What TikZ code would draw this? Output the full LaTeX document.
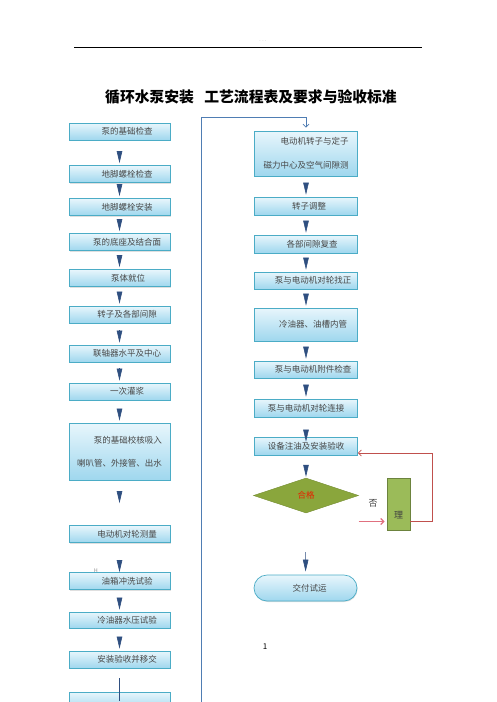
\documentclass[tikz,border=0pt]{standalone}
\usepackage{fontspec}
\setmainfont{Noto Sans CJK SC}
\definecolor{boxtop}{HTML}{E8F6FC}
\definecolor{boxbot}{HTML}{9FD7EE}
\definecolor{boxline}{HTML}{4BACC6}
\definecolor{wedgeblue}{HTML}{2F4F80}
\definecolor{backblue}{HTML}{4F7DB3}
\definecolor{checkgreen}{HTML}{8AA63C}
\definecolor{fixgreen}{HTML}{9BBB59}
\definecolor{returnred}{HTML}{C0504D}
\definecolor{nopink}{HTML}{E0707F}
\usetikzlibrary{arrows.meta,positioning,calc,shapes.geometric,shadows}

\begin{document}
\begin{tikzpicture}[x=1pt,y=-1pt,
    stepbox/.style={draw=boxline,line width=0.7pt,top color=boxtop,bottom color=boxbot,minimum width=101pt,minimum height=17pt,inner sep=1pt,align=center,text=black!72,font=\fontsize{8.5}{10}\selectfont,drop shadow={shadow xshift=0.6pt,shadow yshift=-1pt,opacity=0.25}},
    nudge/.style={execute at begin node={\hspace*{#1}}},
    leftbox/.style={stepbox,nudge=15pt},
    rightbox/.style={stepbox,minimum width=103pt},
    decision/.style={diamond,aspect=3,draw=checkgreen!85!black,fill=checkgreen,minimum width=105pt,minimum height=35pt,inner sep=0pt,text=red!70!orange!90!black,font=\fontsize{8.5}{10}\selectfont},
    fixbox/.style={draw=fixgreen!70!black,line width=0.9pt,fill=fixgreen,minimum width=23pt,minimum height=52pt,inner sep=0pt},
    flow/.style={-{Triangle[length=12pt,width=5.5pt]},line width=0.6pt,wedgeblue,shorten <=#1,shorten >=2pt},
    flow/.default=5pt,
    backline/.style={draw=backblue,line width=0.8pt,-{Straight Barb[length=3pt,width=6pt]},shorten >=3pt},
    retline/.style={draw=returnred,line width=0.8pt,-{Straight Barb[length=3pt,width=6pt]}},
    noline/.style={draw=nopink,line width=1.2pt,-{Straight Barb[length=3pt,width=6pt]},shorten >=2pt}]
  \useasboundingbox (0,0) rectangle (496,702);
  \clip (0,0) rectangle (496,702);
  % header and title
  \draw[line width=1pt] (74,47) -- (422,47);
  \node[font=\tiny,text=black!35] (hdr) at (263,41) {. . .};
  \node[font=\bfseries\fontsize{14.8}{16}\selectfont] (title) at (251,97) {循环水泵安装\hspace{0.7em}工艺流程表及要求与验收标准};
  % left column
  \node[leftbox] (l1) at (119.5,131.5) {泵的基础检查};
  \node[leftbox] (l2) at (119.5,174) {地脚螺栓检查};
  \node[leftbox] (l3) at (119.5,207) {地脚螺栓安装};
  \node[leftbox] (l4) at (119.5,242) {泵的底座及结合面};
  \node[leftbox,nudge=2pt] (l5) at (119.5,278) {泵体就位};
  \node[leftbox] (l6) at (119.5,314.5) {转子及各部间隙};
  \node[leftbox] (l7) at (119.5,353.5) {联轴器水平及中心};
  \node[leftbox] (l8) at (119.5,391.5) {一次灌浆};
  \node[stepbox,minimum height=57pt,align=right] (l9) at (119.5,451.5) {泵的基础校核吸入\\[13pt]喇叭管、外接管、出水};
  \node[leftbox] (l10) at (119.5,534) {电动机对轮测量};
  \node[leftbox] (l11) at (119.5,581) {油箱冲洗试验};
  \node[leftbox,minimum height=16pt] (l12) at (119.5,620) {冷油器水压试验};
  \node[leftbox] (l13) at (119.5,659.5) {安装验收并移交};
  \node[stepbox,minimum height=18pt] (l14) at (119.5,701) {};
  \node[font=\tiny,text=black!50] (hmark) at (96,571) {H};
  % right column
  \node[rightbox,minimum height=45pt,align=right] (r1) at (306,153.5) {电动机转子与定子\\[14pt]磁力中心及空气间隙测};
  \node[rightbox,minimum height=18pt,nudge=6pt] (r2) at (306,206) {转子调整};
  \node[rightbox,minimum height=18pt,nudge=12pt] (r3) at (306,244) {各部间隙复查};
  \node[rightbox,nudge=14pt] (r4) at (306,280.5) {泵与电动机对轮找正};
  \node[rightbox,minimum height=33pt,nudge=14pt] (r5) at (306,324.5) {冷油器、油槽内管};
  \node[rightbox,nudge=14pt] (r6) at (306,369.5) {泵与电动机附件检查};
  \node[rightbox,minimum height=18pt] (r7) at (306,408) {泵与电动机对轮连接};
  \node[rightbox,minimum height=18pt] (r8) at (306,446) {设备注油及安装验收};
  \node[decision] (check) at (306,495.5) {合格};
  \node[fixbox,label={[yshift=-11pt,font=\fontsize{9}{10}\selectfont,text=black!75]center:理}] (fix) at (398.5,504) {};
  \node[stepbox,rounded corners=13pt,minimum width=103pt,minimum height=26pt,nudge=8pt] (handover) at (305.5,588) {交付试运};
  \node[font=\fontsize{8}{9}\selectfont] (pageno) at (265,647) {1};
  % wedges left
  \draw[flow=11pt] (l1) -- (l2);
  \draw[flow=1pt] (l2) -- (l3);
  \draw[flow=3pt] (l3) -- (l4);
  \draw[flow=4pt] (l4) -- (l5);
  \draw[flow=5pt] (l5) -- (l6);
  \draw[flow=7pt] (l6) -- (l7);
  \draw[flow=6pt] (l7) -- (l8);
  \draw[flow=9pt] (l8) -- (l9);
  \draw[flow=11pt,shorten >=22pt] (l9) -- (l10);
  \draw[flow=17pt,shorten >=0pt] (l10) -- (l11);
  \draw[flow=8pt] (l11) -- (l12);
  \draw[flow=9pt] (l12) -- (l13);
  \draw[wedgeblue,line width=0.6pt] ($(l13.south)+(0,10)$) -- (l14.center);
  % wedges right
  \draw[flow=7pt] (r1) -- (r2);
  \draw[flow=6pt] (r2) -- (r3);
  \draw[flow=5pt] (r3) -- (r4);
  \draw[flow=5pt] (r4) -- (r5);
  \draw[flow=6pt] (r5) -- (r6);
  \draw[flow=7pt] (r6) -- (r7);
  \draw[flow=13pt,shorten >=-5pt] (r7) -- (r8);
  \draw[flow=10pt,shorten >=1pt] (r8) -- (check);
  \draw[flow=39pt,shorten >=3pt] (check) -- (handover);
  % return loops
  \coordinate (loopfoot) at (201,702);
  \coordinate (looptop) at (306,117);
  \draw[backline] (loopfoot) |- (looptop) -- (r1);
  \coordinate (fixout) at ($(fix.south east)+(0,-9)$);
  \coordinate (noin) at ($(fix.south west)+(0,-9)$);
  \coordinate (nostart) at (check.east |- noin);
  \coordinate (retturn) at (432,453);
  \draw[retline] (fixout) -| (retturn) -- (r8.east |- retturn);
  \draw[noline] (nostart) -- (noin);
  \node[font=\fontsize{9}{10}\selectfont,text=black!75] (nolabel) at (373,503) {否};
\end{tikzpicture}
\end{document}
